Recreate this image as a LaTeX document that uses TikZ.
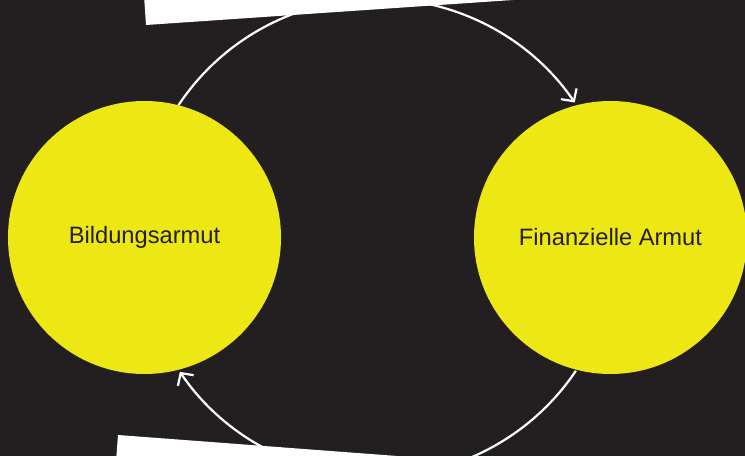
\documentclass[tikz,border=0pt]{standalone}
\usepackage{fontspec}
\setmainfont{Liberation Sans}
\usetikzlibrary{arrows.meta}
\definecolor{bg}{HTML}{231F20}
\definecolor{yel}{HTML}{EDE813}
\tikzset{
  bubble/.style={circle, fill=yel, draw=none, minimum size=273pt, inner sep=0pt,
    text=bg, font=\fontsize{23.7pt}{28pt}\selectfont},
  cyc/.style={draw=white, line width=2.2pt, -{Straight Barb[length=9pt,width=19pt,line width=2.2pt]}},
  card/.style={fill=white, draw=none}
}
\begin{document}
\begin{tikzpicture}[x=1pt,y=1pt]
\useasboundingbox (0,0) rectangle (745,456);
\clip (0,0) rectangle (745,456);
\fill[bg] (0,0) rectangle (745,456);
\coordinate (c) at (377.5,218.5);
\node[bubble] (L) at (144.5,218.5) {Bildungsarmut};
\node[bubble] (R) at (610.5,218.5) {Finanzielle Armut};
\draw[cyc] ([shift={(146.4:239)}]c) arc[start angle=146.4, end angle=34.4, radius=239];
\draw[cyc] ([shift={(-33.9:239)}]c) arc[start angle=-33.9, end angle=-145.8, radius=239];
\fill[card] (146,431) -- (744.6,471.8) -- (737.8,571.6) -- (139.2,530.8) -- cycle;
\fill[card] (118,21) -- (716,-24) -- (708.5,-123.7) -- (110.5,-78.7) -- cycle;
\end{tikzpicture}
\end{document}
